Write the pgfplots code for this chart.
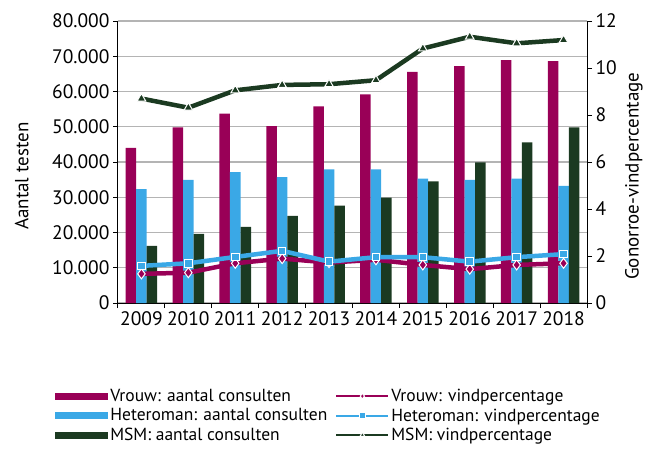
\documentclass[border=0pt]{standalone}
\usepackage{pgfplots}
\pgfplotsset{compat=1.18}
\usepackage{fontspec}
\setmainfont{PT Sans}
\definecolor{vrouw}{HTML}{990057}
\definecolor{hetero}{HTML}{3AA8E6}
\definecolor{msm}{HTML}{1B3A21}
\definecolor{gridgray}{HTML}{B4B4B4}
\pgfplotsset{
  mybarleg/.style={legend image code/.code={\fill[##1] (0pt,-3.5pt) rectangle (53pt,3.5pt);}},
  mylineleg/.style={legend image code/.code={\draw[##1, line width=2pt, mark size=2.8pt, mark repeat=2, mark phase=2] plot coordinates {(0pt,0pt)(26pt,0pt)(52pt,0pt)};}},
}
\begin{document}
\begin{tikzpicture}
\path[use as bounding box] (0,0) rectangle (653pt,448pt);
\begin{axis}[
  at={(118pt,145pt)}, anchor=south west,
  width=469pt, height=282pt, scale only axis,
  xmin=-0.5, xmax=9.5, ymin=0, ymax=80000,
  ytick={0,10000,20000,30000,40000,50000,60000,70000,80000},
  scaled y ticks=false,
  yticklabel style={/pgf/number format/.cd,1000 sep={.},assume math mode=true},
  xticklabel style={/pgf/number format/assume math mode=true},
  ymajorgrids, grid style={gridgray, line width=1.2pt},
  xtick={0,...,9},
  xticklabels={2009,2010,2011,2012,2013,2014,2015,2016,2017,2018},
  major x tick style={draw=none},
  minor xtick={-0.5,0.5,...,9.5},
  minor tick length=5pt, major tick length=5pt,
  tick align=outside,
  axis x line*=bottom, axis y line*=left,
  axis line style={-, black, line width=1pt},
  tick style={black, line width=1pt},
  tick label style={font=\fontsize{19.5}{22}\selectfont},
  ylabel={Aantal testen},
  ylabel style={font=\fontsize{19}{22}\selectfont, at={(axis description cs:-0.205,0.45)}, anchor=center},
  ybar=0pt, bar width=10.5pt,
  clip=false,
]
\addplot[fill=vrouw, draw=none] coordinates {(0,44000)(1,49800)(2,53700)(3,50200)(4,55800)(5,59200)(6,65600)(7,67200)(8,68900)(9,68600)};
\addplot[fill=hetero, draw=none] coordinates {(0,32300)(1,34900)(2,37100)(3,35700)(4,37900)(5,37900)(6,35300)(7,34900)(8,35300)(9,33200)};
\addplot[fill=msm, draw=none] coordinates {(0,16200)(1,19600)(2,21600)(3,24700)(4,27600)(5,29900)(6,34500)(7,39900)(8,45600)(9,49800)};
\end{axis}
\begin{axis}[
  at={(118pt,145pt)}, anchor=south west,
  width=469pt, height=282pt, scale only axis,
  xmin=-0.5, xmax=9.5, ymin=0, ymax=12,
  ytick={0,2,4,6,8,10,12},
  axis y line*=right, axis x line=none,
  axis line style={-, black, line width=1pt},
  tick style={black, line width=1pt},
  major tick length=5pt, tick align=outside,
  yticklabel style={/pgf/number format/assume math mode=true},
  tick label style={font=\fontsize{19.5}{22}\selectfont},
  ylabel={Gonorroe-vindpercentage},
  ylabel style={font=\fontsize{19}{22}\selectfont, at={(axis description cs:1.100,0.45)}, anchor=center},
  clip=false,
  legend columns=2,
  legend cell align=left,
  legend style={at={(-0.134,-0.298)}, anchor=north west, draw=none, fill=none,
    inner sep=0pt, font=\fontsize{17.5}{20}\selectfont,
    row sep=1.5pt,
    /tikz/column 2/.style={column sep=6pt}},
]
\addlegendimage{mybarleg, fill=vrouw, draw=none}
\addlegendentry{Vrouw: aantal consulten}
\addplot[mylineleg, vrouw, line width=4.5pt, mark=diamond*, mark size=5pt, mark options={fill=vrouw, draw=white, line width=1pt}] coordinates {(0,1.24)(1,1.29)(2,1.69)(3,1.89)(4,1.72)(5,1.84)(6,1.62)(7,1.44)(8,1.62)(9,1.69)};
\addlegendentry{Vrouw: vindpercentage}
\addlegendimage{mybarleg, fill=hetero, draw=none}
\addlegendentry{Heteroman: aantal consulten}
\addplot[mylineleg, hetero, line width=4.5pt, mark=square*, mark size=3.8pt, mark options={fill=hetero, draw=white, line width=1pt}] coordinates {(0,1.58)(1,1.69)(2,1.96)(3,2.22)(4,1.76)(5,1.95)(6,1.95)(7,1.76)(8,1.95)(9,2.08)};
\addlegendentry{Heteroman: vindpercentage}
\addlegendimage{mybarleg, fill=msm, draw=none}
\addlegendentry{MSM: aantal consulten}
\addplot[mylineleg, msm, line width=4.5pt, mark=triangle*, mark size=5pt, mark options={fill=msm, draw=white, line width=1pt}] coordinates {(0,8.70)(1,8.31)(2,9.05)(3,9.28)(4,9.31)(5,9.48)(6,10.83)(7,11.33)(8,11.05)(9,11.19)};
\addlegendentry{MSM: vindpercentage}
\end{axis}
\end{tikzpicture}
\end{document}
